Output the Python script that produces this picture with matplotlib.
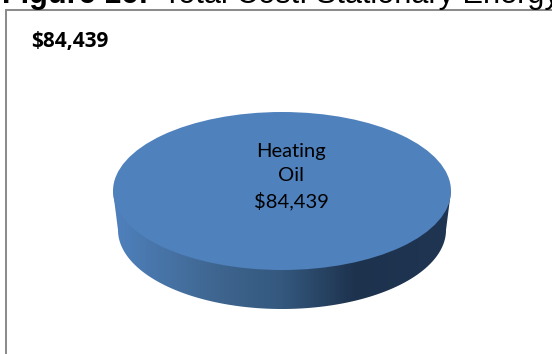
import numpy as np
import matplotlib
matplotlib.use('Agg')
import matplotlib.pyplot as plt
from matplotlib.patches import Ellipse, Polygon
from matplotlib.colors import LinearSegmentedColormap

categories = ['Heating\nOil']
costs = [84439]
total_label = '$84,439'
heading_bold = 'Figure 16:'
heading_rest = 'Total Cost: Stationary Energy'

W, H = 552, 354
fig = plt.figure(figsize=(W / 100, H / 100), dpi=100)
ax = fig.add_axes([0, 0, 1, 1])
ax.set_xlim(0, W)
ax.set_ylim(H, 0)
ax.axis('off')

# heading runs off the top edge
ax.text(2, 2.5, heading_bold, family='Liberation Sans', weight='bold', fontsize=22.1,
        va='baseline', ha='left', color='black')
ax.text(163, 2.5, heading_rest, family='Liberation Sans', fontsize=22.1,
        va='baseline', ha='left', color='black')

# chart frame, open on the right and bottom
ax.plot([6, 6], [H, 9.5], color='#8c8c8c', lw=1.45, solid_capstyle='projecting')
ax.plot([6, W], [9.5, 9.5], color='#8c8c8c', lw=1.45, solid_capstyle='butt')

ax.text(31, 42, total_label, family='Open Sans', weight='bold', fontsize=15,
        va='center', ha='left', color='black')

# pie geometry, one slice takes the whole disc
cx, cy, rx, ry = 282, 191, 169, 79
cy_low, rx_low, ry_low = 230, 164, 79
shares = np.array(costs) / sum(costs)

# side wall with a left-to-right shade
shade = LinearSegmentedColormap.from_list(
    'wall', [(0, '#4f81bd'), (0.3, '#3f6690'), (0.5, '#34587e'), (0.72, '#1d324d'), (1, '#1f3552')])
grad = ax.imshow(np.linspace(0, 1, 256).reshape(1, -1), cmap=shade, aspect='auto',
                 extent=[cx - rx, cx + rx, cy_low + ry_low, cy], zorder=1)
t = np.linspace(0, np.pi, 200)
wall = np.column_stack([
    np.r_[cx + rx, cx + rx_low * np.cos(t), cx - rx],
    np.r_[cy, cy_low + ry_low * np.sin(t), cy],
])
clip = Polygon(wall, closed=True, transform=ax.transData, fc='none', ec='none')
ax.add_patch(clip)
grad.set_clip_path(clip)
ax.set_xlim(0, W)
ax.set_ylim(H, 0)

# top face
ax.add_patch(Ellipse((cx, cy), 2 * rx, 2 * ry, fc='#4f81bd', ec='none', zorder=2))

label = f"{categories[0]}\n${costs[0]:,}"
ax.text(291, 176.5, label, family='Lato', fontsize=14.5, linespacing=1.48,
        ha='center', va='center', color='black', zorder=3)

fig.savefig('out.png', dpi=100)
